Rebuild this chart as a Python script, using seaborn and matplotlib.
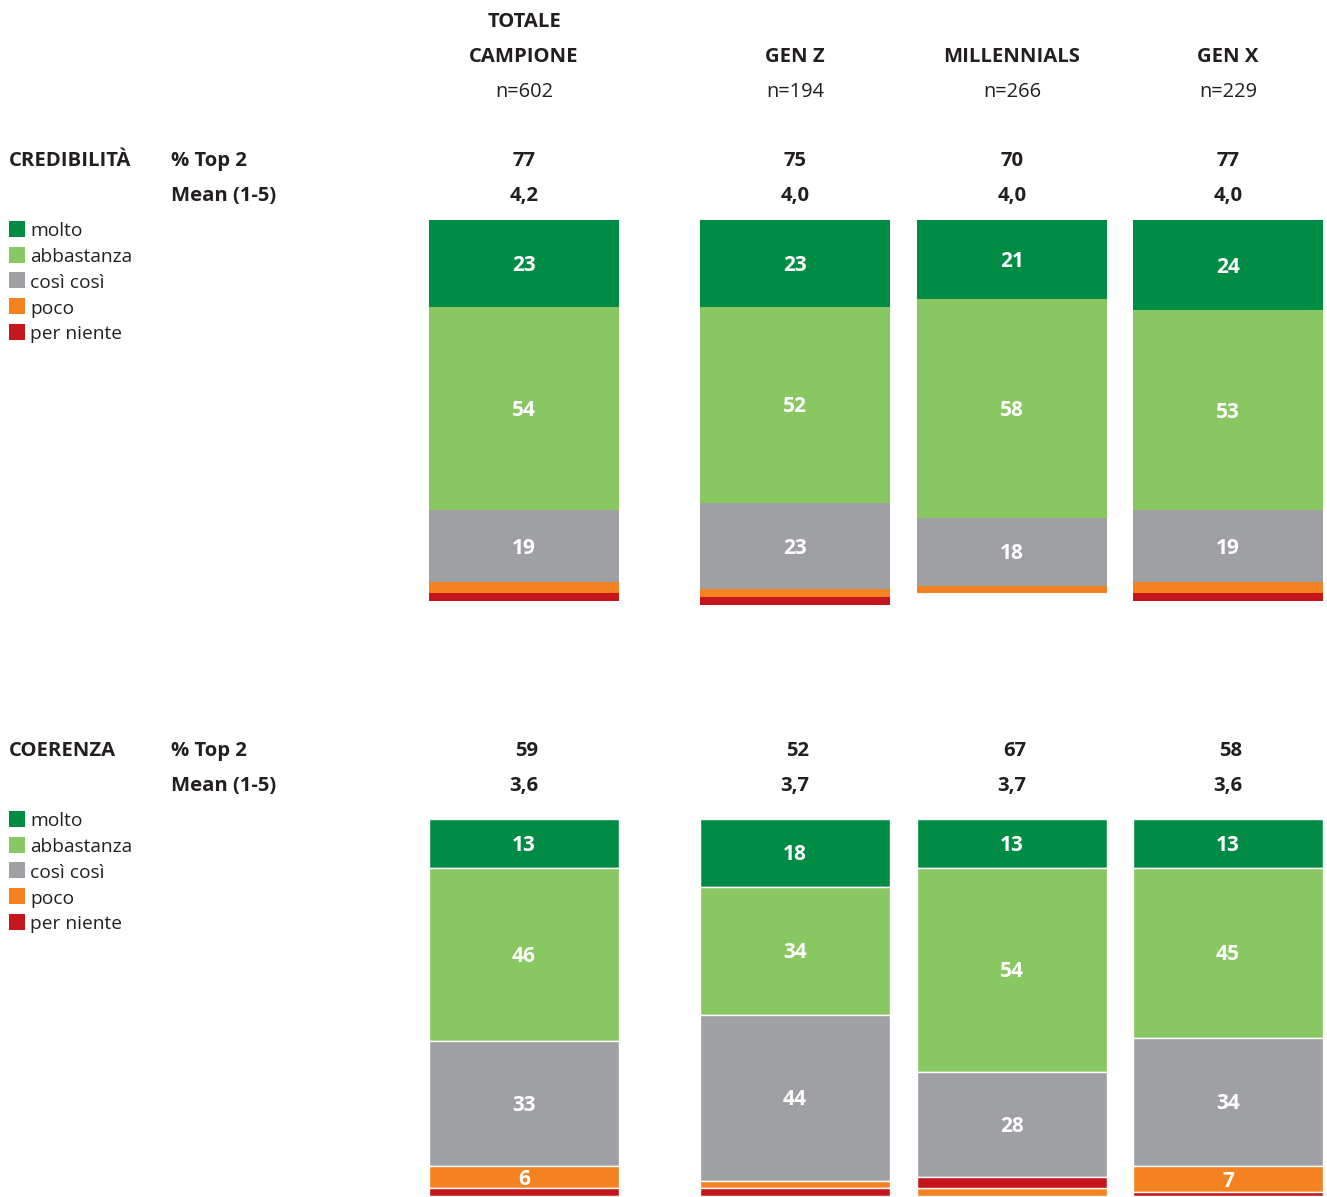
import numpy as np
import pandas as pd
import matplotlib
matplotlib.use("Agg")
import matplotlib.pyplot as plt
from matplotlib.patches import Rectangle
from matplotlib.transforms import offset_copy
import seaborn as sns

# ---- data -------------------------------------------------------------
groups = ["TOTALE\nCAMPIONE", "GEN Z", "MILLENNIALS", "GEN X"]
sample_n = [602, 194, 266, 229]
levels = ["molto", "abbastanza", "così così", "poco", "per niente"]

cred_molto = [23, 23, 21, 24]
cred_abbastanza = [54, 52, 58, 53]
cred_cosi = [19, 23, 18, 19]
cred_poco = [3, 2, 2, 3]
cred_per_niente = [2, 2, 0, 2]
cred_top2 = [77, 75, 70, 77]
cred_mean = ["4,2", "4,0", "4,0", "4,0"]

coer_molto = [13, 18, 13, 13]
coer_abbastanza = [46, 34, 54, 45]
coer_cosi = [33, 44, 28, 34]
coer_poco = [6, 2, 2, 7]
coer_per_niente = [2, 2, 3, 1]
coer_top2 = [59, 52, 67, 58]
coer_mean = ["3,6", "3,7", "3,7", "3,6"]

# stacking order of the five levels inside each bar (top to bottom)
cred_order = [[0, 1, 2, 3, 4]] * 4
coer_order = [[0, 1, 2, 3, 4], [0, 1, 2, 3, 4], [0, 1, 2, 4, 3], [0, 1, 2, 3, 4]]

# ---- style ------------------------------------------------------------
colors = ["#008C44", "#89C762", "#9FA0A4", "#F58220", "#C4161C"]
TXT = "#231F20"
sns.set_theme(style="white")
plt.rcParams["font.family"] = ["Open Sans", "DejaVu Sans"]

W, H = 1327, 1197
fig = plt.figure(figsize=(W / 100, H / 100), dpi=100)

bar_x = [524, 795, 1012, 1228]          # bar centres (px)
bar_w = 190                              # bar width (px)
px_per_pct = 3.77
FS_B = 14.6                              # bold header text
FS_N = 14.4                              # sample sizes
FS_L = 13.8                              # legend text


def fx(px):
    return px / W


def fy(py):
    return 1 - py / H


def ftext(x, y, s, **kw):
    kw.setdefault("color", TXT)
    fig.text(fx(x), fy(y), s, **kw)


def panel(top_px, bottom_px, values, order, edge):
    ax = fig.add_axes([0, fy(bottom_px), 1, (bottom_px - top_px) / H])
    vals = np.array(values, dtype=float)          # levels x bars
    bottoms = np.zeros_like(vals)
    for b in range(vals.shape[1]):
        acc = 0.0
        for k in order[b]:
            bottoms[k, b] = acc
            acc += vals[k, b]
    lbl_tr = offset_copy(ax.transData, fig=fig, x=0, y=-2, units="dots")
    for k, lev in enumerate(levels):
        df = pd.DataFrame({"x": bar_x, "v": vals[k]})
        sns.barplot(data=df, x="x", y="v", native_scale=True, orient="x",
                    width=bar_w / min(np.diff(bar_x)), color=colors[k],
                    saturation=1, errorbar=None, bottom=bottoms[k],
                    edgecolor="white" if edge else colors[k],
                    linewidth=1.0 if edge else 0, ax=ax)
        for b in range(vals.shape[1]):
            v = vals[k, b]
            if v >= 5:
                ax.text(bar_x[b], bottoms[k, b] + v / 2, f"{int(v)}",
                        ha="center", va="center", color="white",
                        fontsize=15, fontweight="bold", transform=lbl_tr)
    ax.set_xlim(0, W)
    ax.set_ylim((bottom_px - top_px) / px_per_pct, 0)
    ax.axis("off")
    return ax


cred = [cred_molto, cred_abbastanza, cred_cosi, cred_poco, cred_per_niente]
coer = [coer_molto, coer_abbastanza, coer_cosi, coer_poco, coer_per_niente]

panel(220, 620, cred, cred_order, edge=False)
panel(819, 1197, coer, coer_order, edge=True)

# ---- column headers ---------------------------------------------------
ftext(bar_x[0], 27.3, "TOTALE", ha="center", va="baseline",
      fontsize=FS_B, fontweight="bold")
for x, g, n in zip(bar_x, groups, sample_n):
    ftext(x, 62.3, g.split("\n")[-1], ha="center", va="baseline",
          fontsize=FS_B, fontweight="bold")
    ftext(x, 97.3, f"n={n}", ha="center", va="baseline", fontsize=FS_N)


# ---- row headers, summary rows and legends ----------------------------
def block(title, y0, top2, mean, dx_top2):
    ftext(9, y0, title, ha="left", va="baseline", fontsize=FS_B, fontweight="bold")
    ftext(171, y0, "% Top 2", ha="left", va="baseline", fontsize=FS_B,
          fontweight="bold")
    ftext(171, y0 + 35, "Mean (1-5)", ha="left", va="baseline", fontsize=FS_B,
          fontweight="bold")
    for x, t, m in zip(bar_x, top2, mean):
        ftext(x + dx_top2, y0, f"{t}", ha="center", va="baseline", fontsize=FS_B,
              fontweight="bold")
        ftext(x, y0 + 35, m, ha="center", va="baseline", fontsize=FS_B,
              fontweight="bold")
    sq_top = y0 + 54.7
    for i, lev in enumerate(levels):
        yt = sq_top + i * 25.7
        fig.add_artist(Rectangle((fx(9), fy(yt + 16)), 16 / W, 16 / H,
                                 transform=fig.transFigure, color=colors[i], lw=0))
        ftext(30, yt + 15.5, lev, ha="left", va="baseline", fontsize=FS_L)


block("CREDIBILITÀ", 166.3, cred_top2, cred_mean, 0)
block("COERENZA", 756.3, coer_top2, coer_mean, 3)

fig.savefig("out.png", dpi=100, facecolor="white")
